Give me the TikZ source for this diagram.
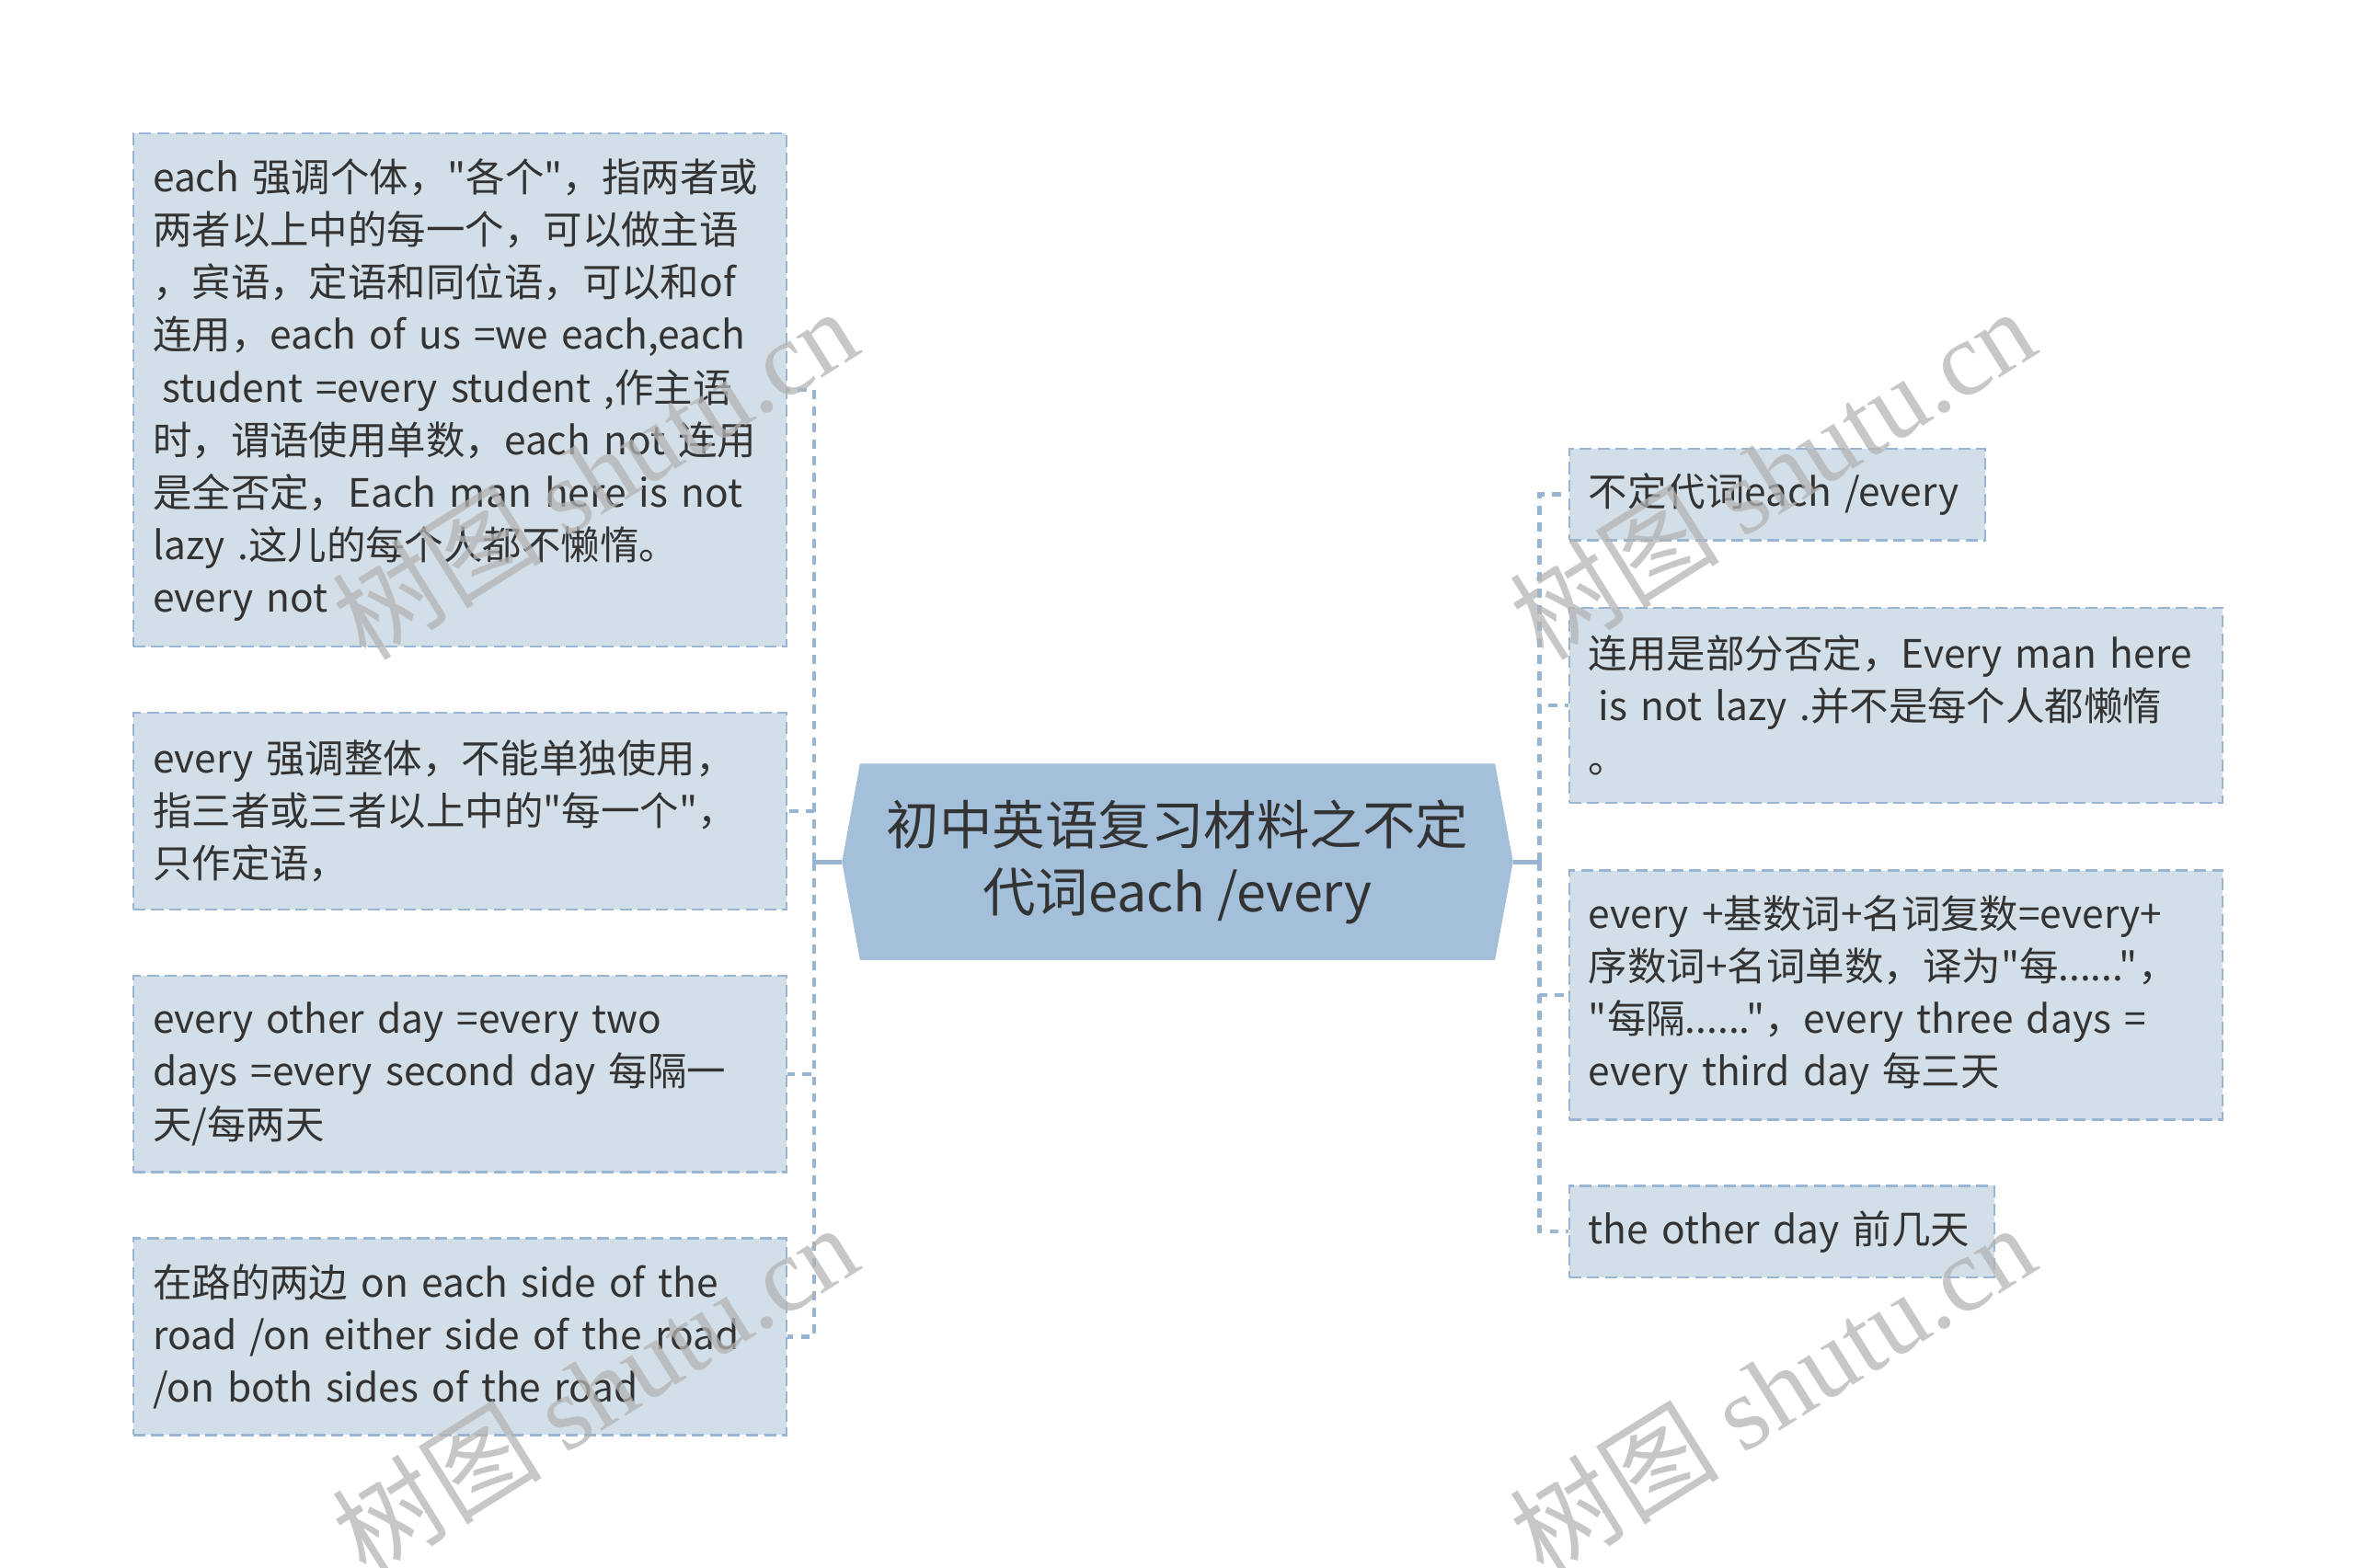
\documentclass[tikz,border=0pt]{standalone}
\usepackage{fontspec}
\newfontfamily\cjkfont{Noto Sans CJK SC}
\newfontfamily\wmserif{Liberation Serif}
\usetikzlibrary{%
  calc,%
  backgrounds%
}
\definecolor{rootfill}{HTML}{A3BFDA}
\definecolor{leaffill}{HTML}{D3DFE8}
\definecolor{linkblue}{HTML}{98B6D3}
\definecolor{inkgray}{HTML}{333333}
\definecolor{wmgray}{HTML}{B4B4B4}
\tikzset{>=latex}
\tikzset{
  leaf/.style={draw=linkblue, fill=leaffill, dash pattern=on 4pt off 2pt,
    line width=0.75pt, anchor=north west, align=left, inner xsep=6.5pt,
    inner ysep=0pt, text=inkgray, font=\cjkfont\fontsize{13}{17.5}\selectfont},
  link/.style={draw=linkblue, line width=1.3pt, dash pattern=on 3pt off 2.5pt},
  stem/.style={draw=linkblue, line width=1.5pt},
  wmark/.style={text=wmgray, text opacity=0.75, rotate=32,
    font=\cjkfont\fontsize{35}{35}\selectfont}
}

\begin{document}
\begin{tikzpicture}[x=0.5pt,y=-0.5pt]
    \useasboundingbox (0,0) rectangle (1568,1044);
    % centre
    \node[align=center, minimum width=223pt, minimum height=65pt, inner sep=0pt,
      text=inkgray, font=\cjkfont\fontsize{17.6}{22.5}\selectfont] (root) at (784,574)
      {初中英语复习材料之不定\\代词each /every};
    \begin{scope}[on background layer]
      \fill[rootfill] (root.west) -- ([xshift=6pt]root.north west) --
      ([xshift=-6pt]root.north east) -- (root.east) --
      ([xshift=-6pt]root.south east) -- ([xshift=6pt]root.south west) -- cycle;
    \end{scope}
    \coordinate (ljoin) at (542,574);
    \coordinate (rjoin) at (1025,574);

    % left side
    \node[leaf, text width=204.5pt, minimum height=171pt] (each) at (88,88)
      {each 强调个体，"各个"，指两者或\\
       两者以上中的每一个，可以做主语\\
       ，宾语，定语和同位语，可以和of\\
       连用，each of us =we each,each\\
       \hspace*{0.25em}student =every student ,作主语\\
       时，谓语使用单数，each not 连用\\
       是全否定，Each man here is not\\
       lazy .这儿的每个人都不懒惰。\\
       every not};
    \node[leaf, text width=204.5pt, minimum height=65.5pt] (every) at (88,474)
      {every 强调整体，不能单独使用，\\
       指三者或三者以上中的"每一个"，\\
       只作定语，};
    \node[leaf, text width=204.5pt, minimum height=65.5pt] (other) at (88,649)
      {every other day =every two\\
       days =every second day 每隔一\\
       天/每两天};
    \node[leaf, text width=204.5pt, minimum height=65.5pt] (side) at (88,824)
      {在路的两边 on each side of the\\
       road /on either side of the road\\
       /on both sides of the road};

    % right side
    \node[leaf, text width=125.5pt, minimum height=30.5pt] (title) at (1044,298)
      {不定代词each /every};
    \node[leaf, text width=204.5pt, minimum height=65pt] (partial) at (1044,404)
      {连用是部分否定，Every man here\\
       \hspace*{0.25em}is not lazy .并不是每个人都懒惰\\
       。};
    \node[leaf, text width=204.5pt, minimum height=83pt] (number) at (1044,579)
      {every +基数词+名词复数=every+\\
       序数词+名词单数，译为"每......"，\\
       "每隔......"，every three days =\\
       every third day 每三天};
    \node[leaf, text width=128.5pt, minimum height=30.5pt] (days) at (1044,789)
      {the other day 前几天};

    % connectors
    \draw[stem] (root.west) -- (ljoin);
    \draw[stem] (root.east) -- (rjoin);
    \draw[link] (ljoin) |- (each.east);
    \draw[link] (ljoin) |- (every.east);
    \draw[link] (ljoin) |- (other.east);
    \draw[link] (ljoin) |- (side.east);
    \draw[link] (rjoin) |- (title.west);
    \draw[link] (rjoin) |- (partial.west);
    \draw[link] (rjoin) |- (number.west);
    \draw[link] (rjoin) |- (days.west);

    % watermarks
    \node[wmark] (wm1) at (396,315) {树图 {\wmserif shutu.cn}};
    \node[wmark] (wm2) at (1180,315) {树图 {\wmserif shutu.cn}};
    \node[wmark] (wm3) at (396,925) {树图 {\wmserif shutu.cn}};
    \node[wmark] (wm4) at (1180,925) {树图 {\wmserif shutu.cn}};
  \end{tikzpicture}
\end{document}
